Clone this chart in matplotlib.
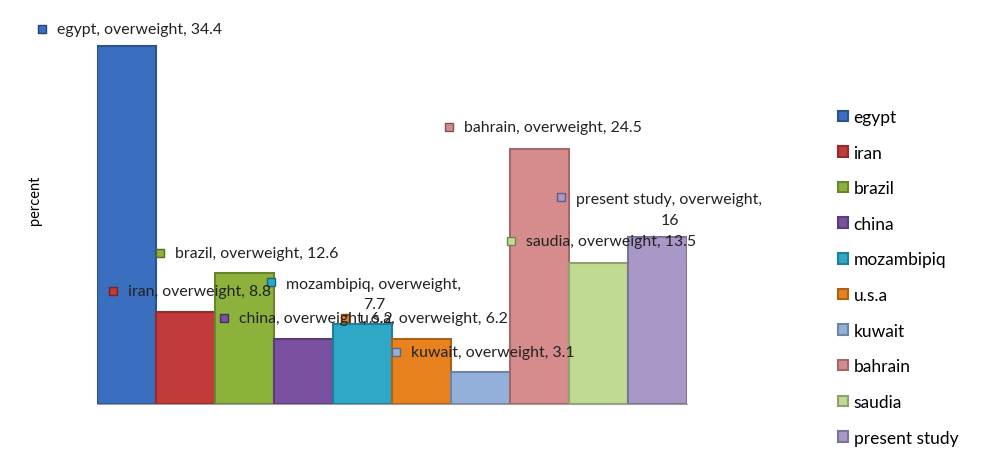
import matplotlib.pyplot as plt
from matplotlib.transforms import offset_copy
from matplotlib.colors import to_rgb

plt.rcParams['font.family'] = ['Lato', 'DejaVu Sans']

countries = ['egypt', 'iran', 'brazil', 'china', 'mozambipiq', 'u.s.a',
             'kuwait', 'bahrain', 'saudia', 'present study']
overweight = [34.4, 8.8, 12.6, 6.2, 7.7, 6.2, 3.1, 24.5, 13.5, 16]
colors = ['#3a6fbf', '#c23a3a', '#8db23c', '#7a50a0', '#2ea8c6', '#e8821f',
          '#93b0da', '#d68c8c', '#c0da92', '#a898c8']
# label marker offsets from bar top centre, in pixels
label_dx = [-84, -72, -84, -79, -91, -76, -84, -90, -87, -96]
label_dy = [17, 21, 20, 21, 42, 21, 20, 22, 22, 40]


def darker(c, f=0.75):
    r, g, b = to_rgb(c)
    return (r * f, g * f, b * f)


fig = plt.figure(figsize=(9.87, 4.52), dpi=100)
ax = fig.add_axes([97 / 987, 47 / 452, 590 / 987, 375 / 452])

x = list(range(len(countries)))
bars = ax.bar(x, overweight, width=1.0, color=colors,
              edgecolor=[darker(c) for c in colors], linewidth=1.5)

ax.set_xlim(-0.5, len(countries) - 0.5)
ax.set_ylim(0, 36)
ax.set_xticks([])
ax.set_yticks([])
for s in ['top', 'right', 'left']:
    ax.spines[s].set_visible(False)
ax.spines['bottom'].set_color('#a0a0a0')
ax.set_ylabel('percent', fontsize=10.5)
ax.yaxis.set_label_coords(-0.093, 0.547)

for i, (name, v) in enumerate(zip(countries, overweight)):
    mt = offset_copy(ax.transData, fig=fig, x=label_dx[i], y=label_dy[i], units='dots')
    ax.plot([i], [v], marker='s', ms=6, color=colors[i],
            markeredgecolor=darker(colors[i], 0.6), transform=mt, clip_on=False)
    if name in ('mozambipiq', 'present study'):
        tt = offset_copy(ax.transData, fig=fig, x=label_dx[i] + 15,
                         y=label_dy[i] + 5, units='dots')
        ax.text(i, v, f'{name}, overweight,\n{v:g}', transform=tt, fontsize=11.4,
                ha='left', va='top', multialignment='center', linespacing=1.6,
                clip_on=False, color='#222222')
    else:
        tt = offset_copy(ax.transData, fig=fig, x=label_dx[i] + 15,
                         y=label_dy[i], units='dots')
        ax.text(i, v, f'{name}, overweight, {v:g}', transform=tt, fontsize=11.4,
                ha='left', va='center', clip_on=False, color='#222222')

ax.legend(bars, countries, loc='upper left',
          bbox_to_anchor=(838 / 987, 1 - 110 / 452),
          bbox_transform=fig.transFigure, frameon=False, fontsize=12.5,
          handlelength=0.55, handleheight=0.55, handletextpad=0.35,
          labelspacing=1.13, borderaxespad=0, borderpad=0)

fig.savefig('out.png', dpi=100)
